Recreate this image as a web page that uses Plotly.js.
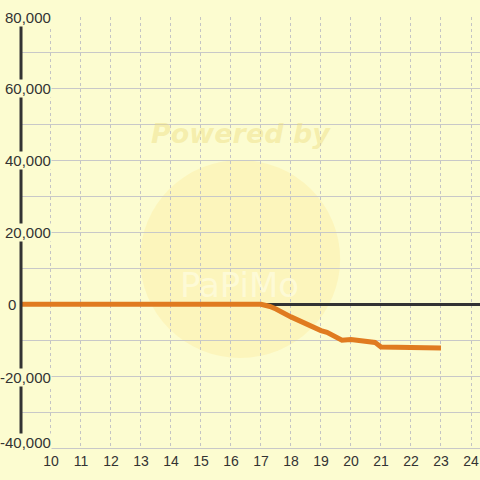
<!DOCTYPE html>
<html>
<head>
<meta charset="utf-8">
<script src="https://cdn.plot.ly/plotly-3.0.1.min.js"></script>
<style>html,body{margin:0;padding:0;background:#fcfcd0;}#chart{width:480px;height:480px;}</style>
</head>
<body>
<div id="chart"></div>
<script>
var hours = [9, 10, 11, 12, 13, 14, 14.7, 15, 15.3, 16, 17, 17.3, 17.5, 18, 18.5, 19, 19.2, 19.7, 20, 20.5, 20.8, 21, 21.5, 22, 22.3, 23];
var values = [0, 0, 0, 0, 0, 0, 0, 300, 0, 0, 0, -600, -1300, -3500, -5500, -7300, -7800, -10000, -9800, -10100, -10600, -11900, -11900, -11900, -12150, -12150];
var xTicks = [10, 11, 12, 13, 14, 15, 16, 17, 18, 19, 20, 21, 22, 23, 24];
var yLabelValues = [80000, 60000, 40000, 20000, 0, -20000, -40000];
var yLabelTexts = ['80,000', '60,000', '40,000', '20,000', '0', '-20,000', '-40,000'];

var bg = '#fcfcd0';
var annotations = yLabelValues.map(function (v, i) {
  var isZero = v === 0;
  var shift = v === -40000 ? 6 : (v === -20000 ? -1 : 0);
  return {
    xref: 'paper', yref: 'y', x: isZero ? -0.017 : 0.0696, y: v,
    xanchor: isZero ? 'center' : 'right', yanchor: 'middle', yshift: shift,
    text: yLabelTexts[i], showarrow: false, bgcolor: isZero ? 'rgba(0,0,0,0)' : bg, borderpad: 0,
    font: {family: 'Liberation Sans, Arial, sans-serif', size: 15, color: '#333333'}
  };
});
annotations.push({
  xref: 'paper', yref: 'paper', x: 0.48, y: 0.73, xanchor: 'center', yanchor: 'middle',
  text: '<b><i>Powered by</i></b>', showarrow: false,
  font: {family: 'DejaVu Sans, sans-serif', size: 27, color: 'rgba(238,222,130,0.45)'}
});
annotations.push({
  xref: 'paper', yref: 'paper', x: 0.478, y: 0.378, xanchor: 'center', yanchor: 'middle',
  text: 'PaPiMo', showarrow: false,
  font: {family: 'DejaVu Sans, sans-serif', size: 34, color: 'rgba(255,255,240,0.5)'}
});

var trace = {
  x: hours, y: values, type: 'scatter', mode: 'lines',
  line: {color: '#e07b20', width: 5}, hoverinfo: 'skip'
};

var layout = {
  width: 480, height: 480,
  margin: {l: 20, r: 0, t: 17, b: 32},
  paper_bgcolor: bg, plot_bgcolor: bg,
  showlegend: false,
  font: {family: 'Liberation Sans, Arial, sans-serif', size: 14, color: '#333333'},
  xaxis: {
    range: [8.97, 24.3], tickvals: xTicks, ticktext: xTicks.map(String),
    showgrid: true, gridcolor: '#c4c4c4', griddash: '3px,3px', gridwidth: 1,
    zeroline: false, showline: true, linecolor: '#c8c8c8', linewidth: 1, mirror: false,
    ticks: '', tickfont: {size: 14, color: '#333333'}
  },
  yaxis: {
    range: [-40000, 80000], dtick: 10000, tick0: 0,
    showgrid: true, gridcolor: '#c8c8c8', gridwidth: 1,
    zeroline: true, zerolinecolor: '#333333', zerolinewidth: 3,
    showticklabels: false, ticks: '', showline: false
  },
  shapes: [
    {type: 'circle', xref: 'paper', yref: 'paper', x0: 0.261, x1: 0.696, y0: 0.209, y1: 0.668,
     fillcolor: 'rgba(255,222,110,0.2)', line: {width: 0}, layer: 'below'},
    {type: 'line', xref: 'paper', yref: 'paper', x0: 0.0022, x1: 0.0022, y0: 0.018, y1: 0.984,
     line: {color: '#333333', width: 3}, layer: 'above'}
  ],
  annotations: annotations
};

Plotly.newPlot('chart', [trace], layout, {displayModeBar: false, staticPlot: true});
</script>
</body>
</html>
